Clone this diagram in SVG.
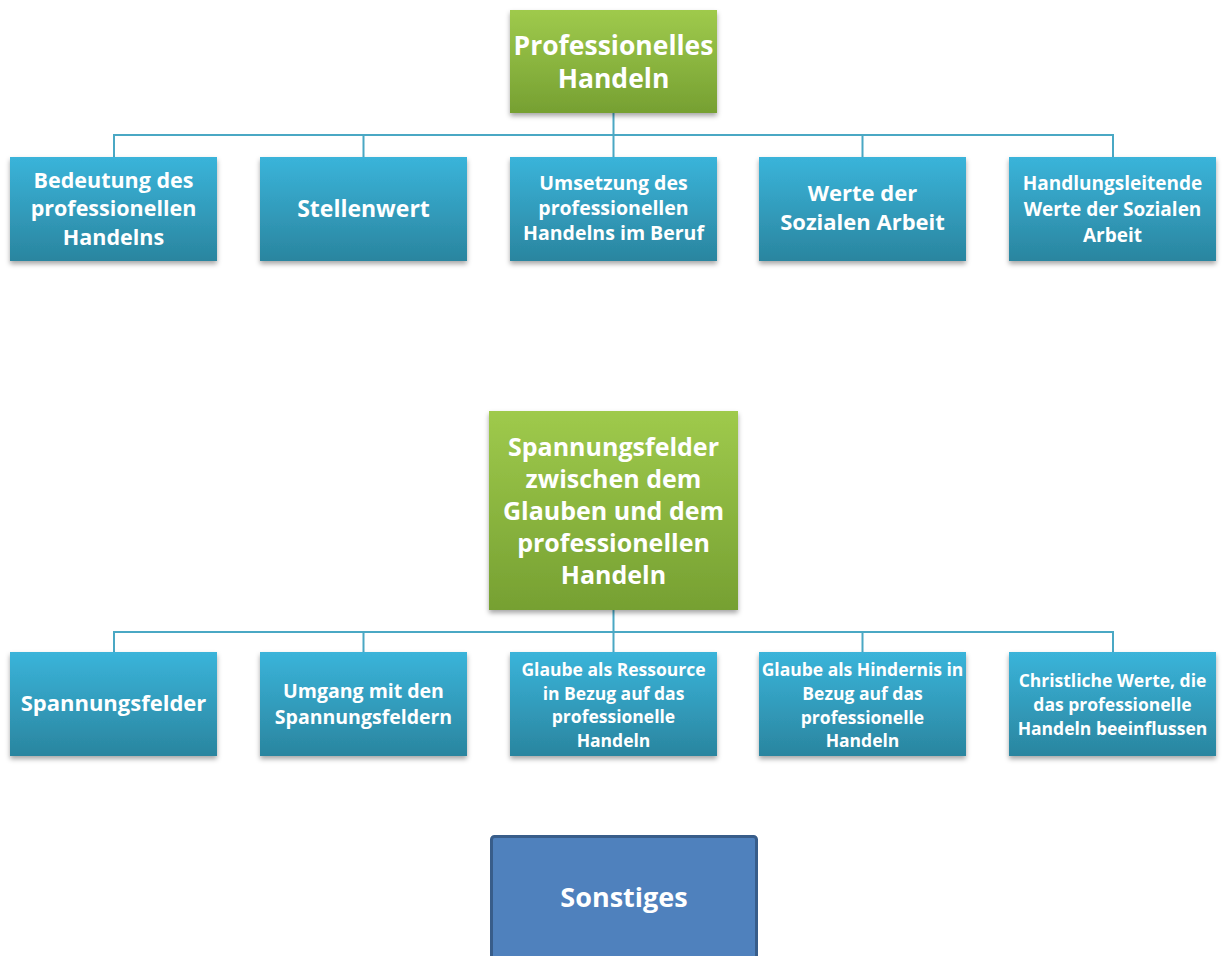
<svg xmlns="http://www.w3.org/2000/svg" width="1225" height="956" viewBox="0 0 1225 956">
<defs>
<linearGradient id="gGreen" x1="0" y1="0" x2="0" y2="1">
<stop offset="0" stop-color="#9fca4c"/>
<stop offset="1" stop-color="#76a032"/>
</linearGradient>
<linearGradient id="gBlue" x1="0" y1="0" x2="0" y2="1">
<stop offset="0" stop-color="#3ab4da"/>
<stop offset="1" stop-color="#2a859f"/>
</linearGradient>
<filter id="sh" x="-10%" y="-10%" width="120%" height="130%">
<feDropShadow dx="0" dy="3" stdDeviation="2.5" flood-color="#000" flood-opacity="0.35"/>
</filter>
</defs>
<style>
.green{fill:url(#gGreen);filter:url(#sh)}
.blue{fill:url(#gBlue);filter:url(#sh)}
.conn{stroke:#4aa8c4;stroke-width:2;fill:none}
text{font-family:"Open Sans",Lato,sans-serif;font-weight:bold;fill:#fff;text-anchor:middle}
</style>
<rect width="1225" height="956" fill="#fff"/>
<g id="connectors">
<path class="conn" d="M613.5 113V135M114 157V135H1113V157M363.5 135V157M613.5 135V157M862.5 135V157"/>
<path class="conn" d="M613.5 610V632M114 652V632H1113V652M363.5 632V652M613.5 632V652M862.5 632V652"/>
</g>
<g id="n-professionelles-handeln">
<rect class="green" x="510" y="10" width="207" height="103"/>
<text font-size="26.5" x="613.5"><tspan y="55">Professionelles</tspan><tspan x="613.5" y="88">Handeln</tspan></text>
</g>
<g id="n-bedeutung">
<rect class="blue" x="10" y="157" width="207" height="104"/>
<text font-size="21.5" x="113.5"><tspan y="188">Bedeutung des</tspan><tspan x="113.5" y="216">professionellen</tspan><tspan x="113.5" y="245">Handelns</tspan></text>
</g>
<g id="n-stellenwert">
<rect class="blue" x="260" y="157" width="207" height="104"/>
<text font-size="23" x="363.5" y="217">Stellenwert</text>
</g>
<g id="n-umsetzung">
<rect class="blue" x="510" y="157" width="207" height="104"/>
<text font-size="19.5" x="613.5"><tspan y="190">Umsetzung des</tspan><tspan x="613.5" y="215">professionellen</tspan><tspan x="613.5" y="240">Handelns im Beruf</tspan></text>
</g>
<g id="n-werte">
<rect class="blue" x="759" y="157" width="207" height="104"/>
<text font-size="22" x="862.5"><tspan y="201">Werte der</tspan><tspan x="862.5" y="230">Sozialen Arbeit</tspan></text>
</g>
<g id="n-handlungsleitende">
<rect class="blue" x="1009" y="157" width="207" height="104"/>
<text font-size="19" x="1112.5"><tspan y="190">Handlungsleitende</tspan><tspan x="1112.5" y="216">Werte der Sozialen</tspan><tspan x="1112.5" y="242">Arbeit</tspan></text>
</g>
<g id="n-spannungsfelder-glauben">
<rect class="green" x="489" y="411" width="249" height="199"/>
<text font-size="25" x="613.5"><tspan y="456">Spannungsfelder</tspan><tspan x="613.5" y="488">zwischen dem</tspan><tspan x="613.5" y="520">Glauben und dem</tspan><tspan x="613.5" y="552">professionellen</tspan><tspan x="613.5" y="584">Handeln</tspan></text>
</g>
<g id="n-spannungsfelder">
<rect class="blue" x="10" y="652" width="207" height="104"/>
<text font-size="22" x="113.5" y="711">Spannungsfelder</text>
</g>
<g id="n-umgang">
<rect class="blue" x="260" y="652" width="207" height="104"/>
<text font-size="19.5" x="363.5"><tspan y="698">Umgang mit den</tspan><tspan x="363.5" y="724">Spannungsfeldern</tspan></text>
</g>
<g id="n-ressource">
<rect class="blue" x="510" y="652" width="207" height="104"/>
<text font-size="17.5" x="613.5"><tspan y="676">Glaube als Ressource</tspan><tspan x="613.5" y="700">in Bezug auf das</tspan><tspan x="613.5" y="723">professionelle</tspan><tspan x="613.5" y="747">Handeln</tspan></text>
</g>
<g id="n-hindernis">
<rect class="blue" x="759" y="652" width="207" height="104"/>
<text font-size="17.5" x="862.5"><tspan y="676">Glaube als Hindernis in</tspan><tspan x="862.5" y="700">Bezug auf das</tspan><tspan x="862.5" y="724">professionelle</tspan><tspan x="862.5" y="747">Handeln</tspan></text>
</g>
<g id="n-christliche">
<rect class="blue" x="1009" y="652" width="207" height="104"/>
<text font-size="17.5" x="1112.5"><tspan y="687">Christliche Werte, die</tspan><tspan x="1112.5" y="711">das professionelle</tspan><tspan x="1112.5" y="735">Handeln beeinflussen</tspan></text>
</g>
<g id="n-sonstiges">
<rect x="491.5" y="836.5" width="265" height="130" rx="3" fill="#4f81bd" stroke="#385d8a" stroke-width="3"/>
<text font-size="27" x="624" y="907">Sonstiges</text>
</g>
</svg>
